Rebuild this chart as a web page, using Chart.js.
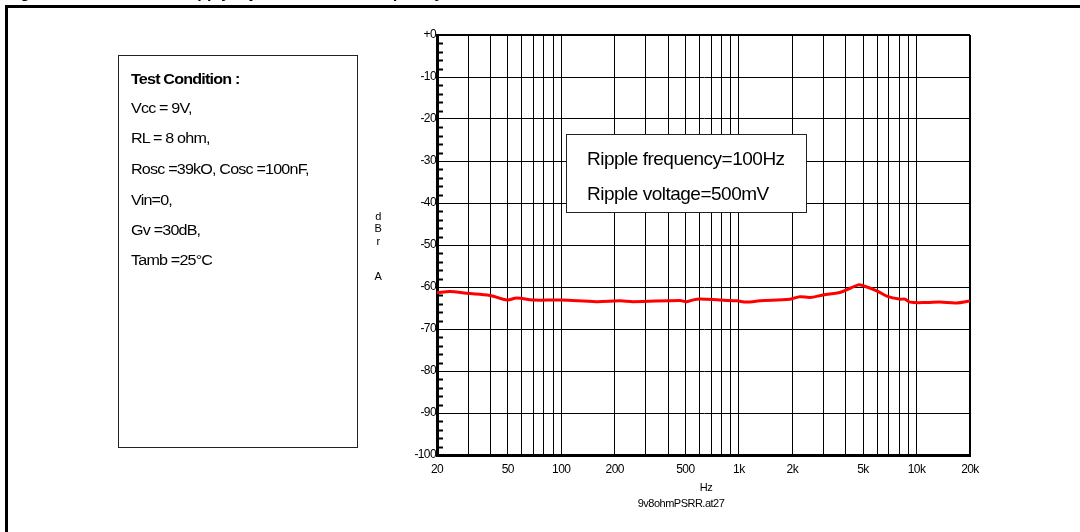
<!DOCTYPE html>
<html>
<head>
<meta charset="utf-8">
<title>PSRR vs frequency</title>
<script src="https://cdn.jsdelivr.net/npm/chart.js@4.4.1/dist/chart.umd.min.js"></script>
<style>
    body { margin: 0; background: #fff; }
    #wrap { position: relative; width: 1080px; height: 532px; overflow: hidden; font-family: "Liberation Sans", Arial, sans-serif; color: #000; }
    #c { position: absolute; left: 0; top: 0; }
    .frame { position: absolute; left: 5px; top: 5px; right: -10px; bottom: -10px; border-top: 3px solid #000; border-left: 3px solid #000; }
    .title { position: absolute; left: 6px; top: -16px; font-weight: bold; font-size: 16px; white-space: pre; }
    .cond { position: absolute; left: 118px; top: 55px; width: 238px; height: 391px; border: 1px solid #222; background: #fff; }
    .cond div { position: absolute; left: 12px; font-size: 14px; white-space: nowrap; transform: scaleX(1.15); transform-origin: left center; letter-spacing: -0.7px; }
    .legend { position: absolute; left: 566px; top: 134px; width: 239px; height: 77px; border: 1px solid #222; background: #fff; }
    .legend div { position: absolute; left: 20px; font-size: 19px; white-space: nowrap; letter-spacing: -0.5px; }
    .lbl { position: absolute; font-size: 11px; white-space: nowrap; transform: translate(-50%, -50%); letter-spacing: -0.5px; }
</style>
</head>
<body>
<div id="wrap">
    <canvas id="c" width="1080" height="532"></canvas>
    <div class="frame"></div>
    <div class="title">Figure 17.          Power supply rejection ratio vs frequency</div>

    <div class="cond">
        <div style="top:15px;font-weight:bold">Test Condition :</div>
        <div style="top:44px">Vcc = 9V,</div>
        <div style="top:74px">RL = 8 ohm,</div>
        <div style="top:105px">Rosc =39kO, Cosc =100nF,</div>
        <div style="top:136px">Vin=0,</div>
        <div style="top:166px">Gv =30dB,</div>
        <div style="top:196px">Tamb =25°C</div>
    </div>

    <div class="legend">
        <div style="top:13px">Ripple frequency=100Hz</div>
        <div style="top:48px">Ripple voltage=500mV</div>
    </div>

    <div class="lbl" style="left:378px;top:216px">d</div>
    <div class="lbl" style="left:378px;top:228px">B</div>
    <div class="lbl" style="left:378px;top:241px">r</div>
    <div class="lbl" style="left:378px;top:276px">A</div>
    <div class="lbl" style="left:706px;top:487px">Hz</div>
    <div class="lbl" style="left:681px;top:503px">9v8ohmPSRR.at27</div>
</div>

<script>
// valeurs (Hz, dB)
const freqHz = [20, 23.7, 29.4, 39.8, 49.5, 56.2, 69.4, 100, 158, 214, 254, 466, 508, 579, 783, 972, 1107, 1315, 1939, 2208, 2513, 2972, 3706, 4041, 4700, 5012, 5966, 6930, 8064, 8604, 9180, 11400, 13540, 16810, 20000];
const psrrDb = [-61.4, -61.1, -61.5, -62.0, -63.1, -62.6, -63.1, -63.1, -63.5, -63.3, -63.5, -63.2, -63.5, -62.9, -63.1, -63.3, -63.6, -63.3, -62.9, -62.3, -62.5, -61.9, -61.3, -60.7, -59.5, -59.7, -60.9, -62.3, -62.9, -62.9, -63.6, -63.7, -63.6, -63.8, -63.3];

// grille log et libellés de l'axe X
const xGridHz = [20, 30, 40, 50, 60, 70, 80, 90, 100, 200, 300, 400, 500, 600, 700, 800, 900, 1000, 2000, 3000, 4000, 5000, 6000, 7000, 8000, 9000, 10000, 20000];
const xLabelHz = [20, 50, 100, 200, 500, 1000, 2000, 5000, 10000, 20000];
const xLabelText = ['20', '50', '100', '200', '500', '1k', '2k', '5k', '10k', '20k'];

// axe Y
const yTickDb = [-100, -90, -80, -70, -60, -50, -40, -30, -20, -10, 0];
const yTickText = ['-100', '-90', '-80', '-70', '-60', '-50', '-40', '-30', '-20', '-10', '+0'];

const tightText = {
    id: 'tightText',
    beforeDraw(chart) {
        chart.ctx.letterSpacing = '-0.6px';
    }
};

// petits traits tous les 2 dB le long de l'axe gauche
const minorTicks = {
    id: 'minorTicks',
    afterDatasetsDraw(chart) {
        const { ctx, chartArea, scales } = chart;
        ctx.save();
        ctx.strokeStyle = '#000';
        ctx.lineWidth = 2;
        for (let v = -98; v < 0; v += 2) {
            if (v % 10 === 0) continue;
            const y = Math.round(scales.y.getPixelForValue(v)) + 0.5;
            ctx.beginPath();
            ctx.moveTo(chartArea.left, y);
            ctx.lineTo(chartArea.left + 6, y);
            ctx.stroke();
        }
        ctx.restore();
    }
};

new Chart(document.getElementById('c'), {
    type: 'line',
    data: {
        datasets: [{
            data: freqHz.map((f, i) => ({ x: f, y: psrrDb[i] })),
            borderColor: '#ff0000',
            borderWidth: 3,
            pointRadius: 0,
            tension: 0.35,
            fill: false
        }]
    },
    options: {
        responsive: false,
        animation: false,
        events: [],
        layout: { padding: { left: 0, top: 35, right: 110, bottom: 0 } },
        plugins: { legend: { display: false }, tooltip: { enabled: false } },
        scales: {
            x: {
                type: 'logarithmic',
                min: 20,
                max: 20000,
                afterBuildTicks: s => { s.ticks = xGridHz.map(v => ({ value: v })); },
                afterFit: s => { s.height = 77; },
                ticks: {
                    autoSkip: false,
                    maxRotation: 0,
                    padding: 7,
                    color: '#000',
                    font: { family: 'Liberation Sans', size: 12 },
                    callback: v => {
                        const i = xLabelHz.indexOf(v);
                        return i >= 0 ? xLabelText[i] : '';
                    }
                },
                grid: {
                    color: '#000',
                    lineWidth: c => (c.tick && c.tick.value === 20000 ? 2 : 1),
                    drawTicks: false
                },
                border: { display: true, color: '#000', width: 3 }
            },
            y: {
                min: -100,
                max: 0,
                afterBuildTicks: s => { s.ticks = yTickDb.map(v => ({ value: v })); },
                afterFit: s => { s.width = 437; },
                ticks: {
                    padding: 1,
                    color: '#000',
                    font: { family: 'Liberation Sans', size: 12 },
                    callback: v => yTickText[yTickDb.indexOf(v)]
                },
                grid: {
                    color: '#000',
                    lineWidth: c => (c.tick && c.tick.value === 0 ? 2 : 1),
                    drawTicks: false
                },
                border: { display: true, color: '#000', width: 3 }
            }
        }
    },
    plugins: [tightText, minorTicks]
});
</script>
</body>
</html>
